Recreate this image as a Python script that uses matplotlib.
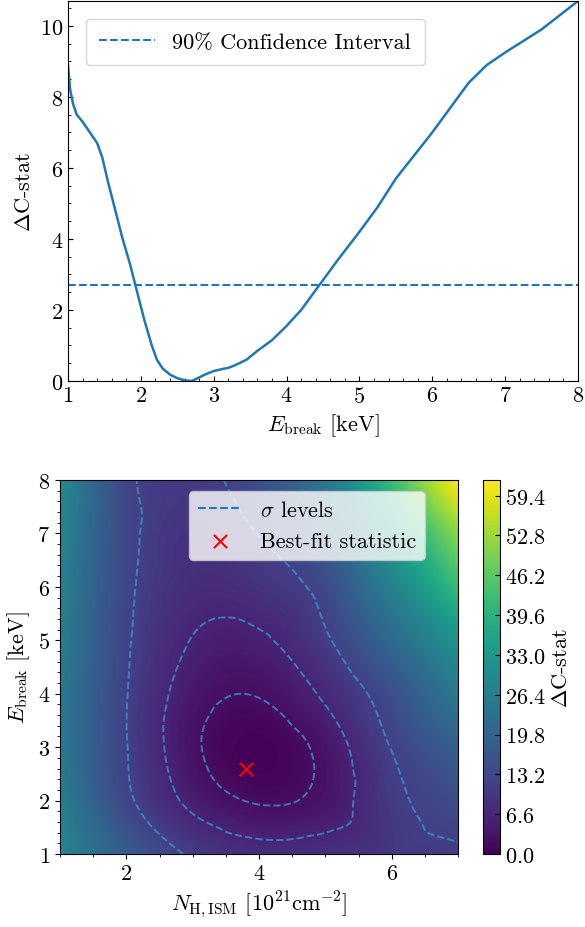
import numpy as np
import matplotlib
matplotlib.use("Agg")
import matplotlib.pyplot as plt
import matplotlib.tri as mtri

plt.rcParams.update({"font.family": "serif", "font.serif": ["cmr10"], "mathtext.fontset": "cm",
                     "axes.formatter.use_mathtext": True, "font.size": 16,
                     "xtick.direction": "in", "ytick.direction": "in"})

# top profile
e_break = [1.0, 1.03, 1.07, 1.12, 1.2, 1.3, 1.4, 1.47, 1.55, 1.65, 1.75, 1.85, 1.95, 2.05, 2.15, 2.22,
           2.3, 2.4, 2.5, 2.6, 2.7, 2.8, 2.9, 3.0, 3.1, 3.2, 3.3, 3.45, 3.6, 3.8, 4.0, 4.2, 4.45,
           4.7, 5.0, 5.25, 5.5, 5.75, 6.0, 6.25, 6.5, 6.75, 7.0, 7.5, 8.0]
dcstat = [8.9, 8.2, 7.8, 7.5, 7.3, 7.0, 6.7, 6.3, 5.6, 4.8, 4.0, 3.3, 2.5, 1.7, 1.0, 0.6,
          0.35, 0.18, 0.08, 0.02, 0.0, 0.1, 0.2, 0.28, 0.33, 0.37, 0.45, 0.6, 0.85, 1.15, 1.55, 2.0, 2.7,
          3.4, 4.2, 4.9, 5.7, 6.35, 7.0, 7.7, 8.4, 8.9, 9.25, 9.9, 10.7]
ci_level = 2.706

# bottom grid
nh_grid = [1, 2, 3, 4, 5, 6, 7]
eb_grid = [1, 2, 3, 4, 5, 6, 7, 8]
cstat_grid = [
    [28, 18, 11, 8, 8.5, 10, 11],
    [26, 13, 5, 2, 3.5, 10.5, 14.5],
    [25, 12, 3, 0.5, 3.5, 12, 19],
    [25, 12, 4, 2.5, 7, 15, 25],
    [26, 12.5, 6, 5.5, 11, 21, 32],
    [27, 13, 8, 9, 14, 27, 42],
    [28, 13.5, 9, 12, 19, 34, 51],
    [29, 13, 10.5, 15, 25, 42, 62],
]
sigma_levels = [2.3, 6.18, 11.8]
best_fit = (3.8, 2.6)

fig = plt.figure(figsize=(5.85, 9.28), dpi=100)
ax1 = fig.add_axes([68/585, 1-382/928, 510/585, 380/928])
ax1.plot(e_break, dcstat, color="#1f77b4", lw=1.8)
ax1.axhline(ci_level, color="#1f77b4", ls="--", lw=1.5, label="90% Confidence Interval")
ax1.set_xlim(1, 8); ax1.set_ylim(0, 10.7)
ax1.set_xlabel(r"$E_{\rm break}$ [keV]"); ax1.set_ylabel(r"$\Delta$C-stat")
ax1.minorticks_on()
ax1.legend(loc="upper left", fontsize=16, borderpad=0.6, handlelength=2.5, borderaxespad=0.8)

ax2 = fig.add_axes([60/585, 1-855/928, 398/585, 374/928])
X, Y = np.meshgrid(nh_grid, eb_grid)
tri = mtri.Triangulation(X.ravel(), Y.ravel())
interp = mtri.CubicTriInterpolator(tri, np.array(cstat_grid).ravel(), kind="geom")
xf = np.linspace(1, 7, 241); yf = np.linspace(1, 8, 281)
XF, YF = np.meshgrid(xf, yf)
ZF = np.clip(np.ma.filled(interp(XF, YF), 0), 0, None)
im = ax2.imshow(ZF, origin="lower", extent=[1, 7, 1, 8], aspect="auto", cmap="viridis", vmin=0, vmax=62)
ax2.contour(XF, YF, ZF, levels=sigma_levels, colors="#3a8fd0", linestyles="--", linewidths=1.4, alpha=0.8)
ax2.plot([], [], color="#1f77b4", ls="--", label=r"$\sigma$ levels")
ax2.scatter([best_fit[0]], [best_fit[1]], marker="x", color="red", s=90, label="Best-fit statistic", zorder=5)
ax2.set_xlim(1, 7); ax2.set_ylim(1, 8)
ax2.set_xlabel(r"$N_{\rm H,ISM}$ [$10^{21}$cm$^{-2}$]"); ax2.set_ylabel(r"$E_{\rm break}$ [keV]")
ax2.minorticks_on()
ax2.tick_params(which="both", direction="out")
ax2.legend(loc="upper center", bbox_to_anchor=(0.62, 1.0), fontsize=16)

cax = fig.add_axes([483/585, 1-855/928, 17/585, 374/928])
cb = fig.colorbar(im, cax=cax, ticks=np.round(np.arange(0, 60, 6.6), 1))
cb.set_label(r"$\Delta$C-stat")
fig.savefig("out.png", dpi=100)
